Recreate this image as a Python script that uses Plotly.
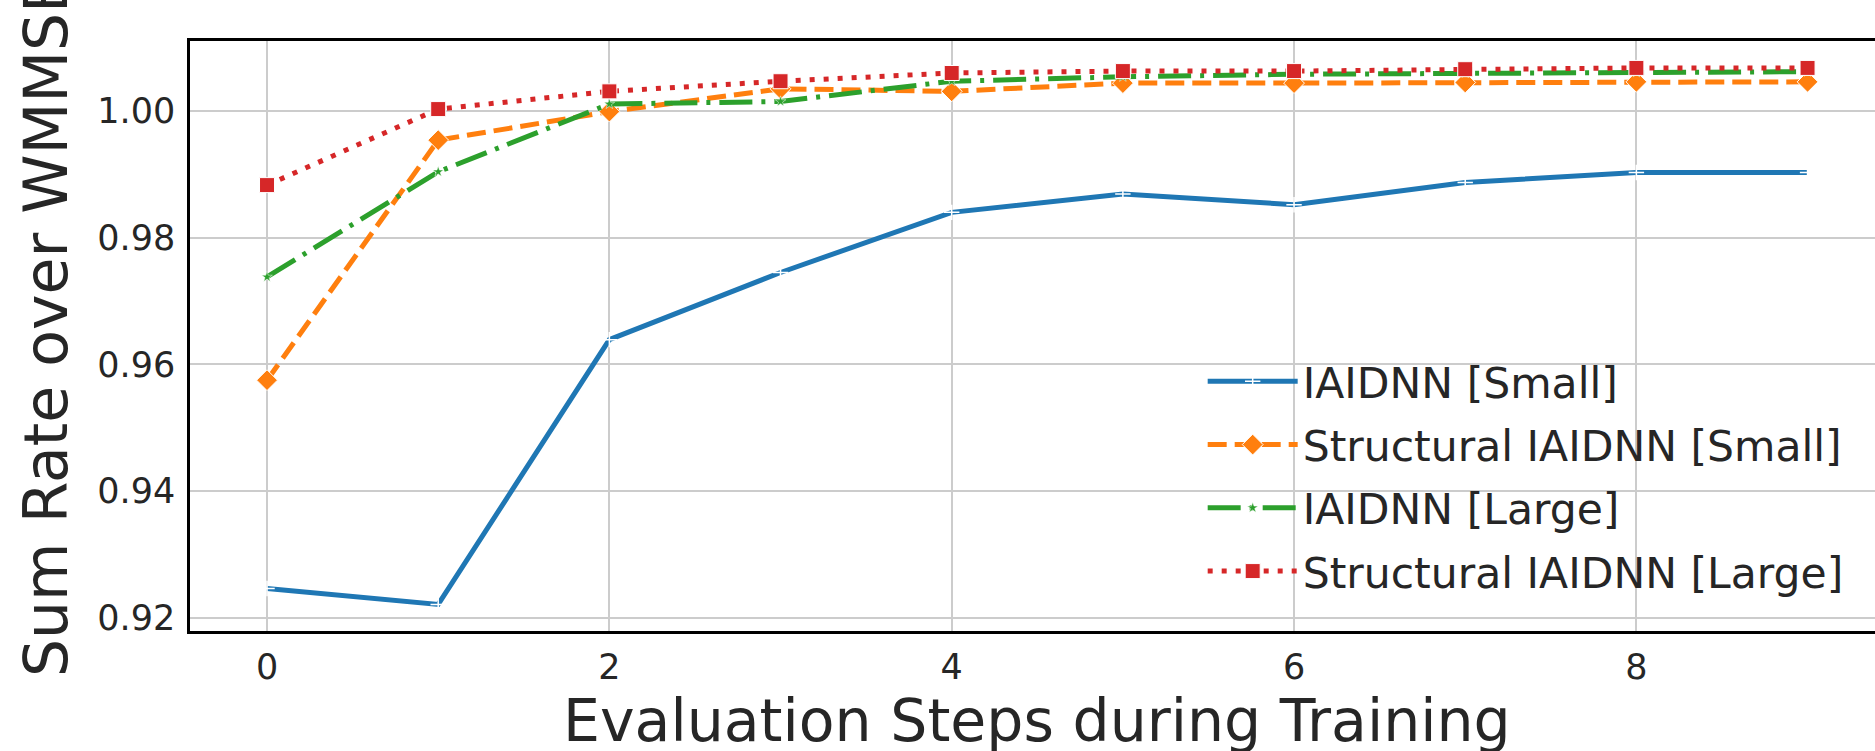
import plotly.graph_objects as go

steps = [0, 1, 2, 3, 4, 5, 6, 7, 8, 9]
iaidnn_small = [0.9246, 0.9221, 0.9639, 0.9745, 0.9840, 0.9869, 0.9852, 0.9887, 0.9903, 0.9903]
struct_small = [0.9575, 0.9954, 0.9999, 1.0035, 1.0031, 1.0044, 1.0044, 1.0045, 1.0046, 1.0046]
iaidnn_large = [0.9738, 0.9904, 1.0011, 1.0015, 1.0047, 1.0054, 1.0058, 1.0060, 1.0061, 1.0062]
struct_large = [0.9883, 1.0003, 1.0031, 1.0047, 1.0060, 1.0063, 1.0063, 1.0066, 1.0068, 1.0068]

names = ["IAIDNN [Small]", "Structural IAIDNN [Small]", "IAIDNN [Large]", "Structural IAIDNN [Large]"]
y_ticks = [0.92, 0.94, 0.96, 0.98, 1.00]
x_ticks = [0, 2, 4, 6, 8]

FONT = "DejaVu Sans"
TXT = "#262626"

fig = go.Figure()

styles = [
    dict(color="#1f77b4", dash="solid", symbol="cross-thin", size=11, mline="white", mwidth=1.5),
    dict(color="#ff7f0e", dash="19px,8px", symbol="diamond", size=16, mline="white", mwidth=1),
    dict(color="#2ca02c", dash="33px,9px,4px,9px", symbol="star", size=8, mline="white", mwidth=0.5),
    dict(color="#d62728", dash="5px,9px", symbol="square", size=15, mline="white", mwidth=1),
]
series = [iaidnn_small, struct_small, iaidnn_large, struct_large]

for i, (name, ys, st) in enumerate(zip(names, series, styles)):
    fig.add_trace(go.Scatter(
        x=steps, y=ys, name=name, mode="lines+markers",
        legendgroup=f"g{i}",
        line=dict(color=st["color"], width=5, dash=st["dash"]),
        marker=dict(symbol=st["symbol"], size=st["size"], color=st["color"],
                    line=dict(color=st["mline"], width=st["mwidth"])),
    ))

fig.update_layout(
    width=1875, height=751,
    margin=dict(l=190, r=0, t=41, b=120),
    plot_bgcolor="white", paper_bgcolor="white",
    font=dict(family=FONT, color=TXT),
    showlegend=True,
    legend=dict(
        x=0.601, y=0.481, xanchor="left", yanchor="top",
        bgcolor="rgba(0,0,0,0)", borderwidth=0,
        font=dict(size=42.5, family=FONT, color=TXT),
        traceorder="grouped", tracegroupgap=5,
        itemwidth=90,
    ),
    xaxis=dict(
        range=[-0.45, 9.394], tickvals=x_ticks, ticktext=[str(v) for v in x_ticks],
        showgrid=True, gridcolor="#cccccc", gridwidth=2,
        showline=True, linecolor="black", linewidth=2.5, mirror=True,
        zeroline=False, ticks="", tickfont=dict(size=35, color=TXT, family=FONT),
        ticklabelstandoff=3,
    ),
    yaxis=dict(
        range=[0.9179, 1.01105], tickvals=y_ticks, ticktext=[f"{v:.2f}" for v in y_ticks],
        showgrid=True, gridcolor="#cccccc", gridwidth=2,
        showline=True, linecolor="black", linewidth=2.5, mirror=False,
        zeroline=False, ticks="", tickfont=dict(size=35, color=TXT, family=FONT),
        ticklabelstandoff=5,
    ),
)

fig.add_annotation(
    text="Evaluation Steps during Training", xref="x", yref="paper",
    x=4.5, y=0, xanchor="center", yanchor="middle", yshift=-90,
    showarrow=False, font=dict(size=58.5, color=TXT, family=FONT),
)
fig.add_annotation(
    text="Sum Rate over WMMSE", xref="paper", yref="paper",
    x=0, y=0.5, xanchor="center", yanchor="middle", xshift=-144, yshift=10,
    textangle=-90, showarrow=False, font=dict(size=60, color=TXT, family=FONT),
)

fig.write_html(
    "out.html",
    config={"displayModeBar": False},
    post_script="document.body.style.margin='0';document.body.style.padding='0';",
)
